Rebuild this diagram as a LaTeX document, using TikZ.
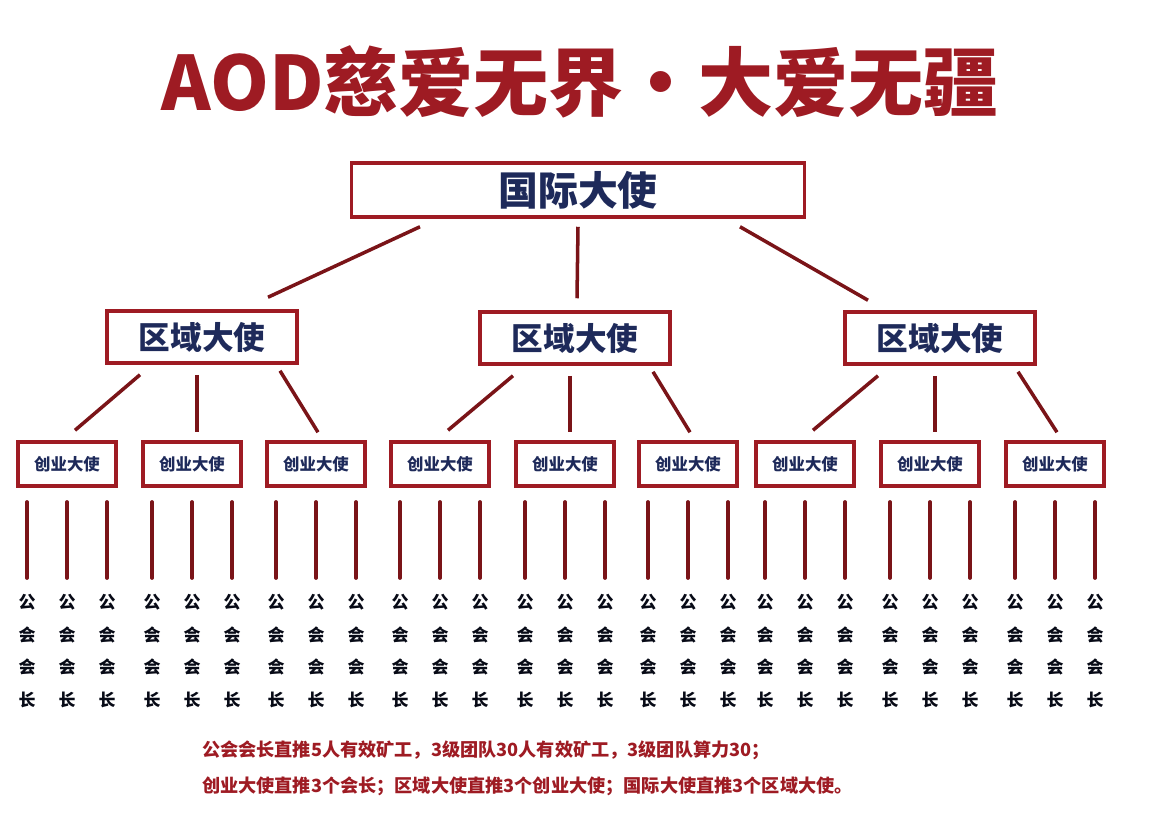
\documentclass[tikz,border=0pt]{standalone}
\usepackage{fontspec}
\setmainfont{Noto Sans CJK SC}
\usetikzlibrary{positioning}
\definecolor{darkred}{HTML}{9E1B23}
\definecolor{linered}{HTML}{7A1418}
\definecolor{navy}{HTML}{1E2A5A}
\begin{document}
\begin{tikzpicture}[x=0.03cm, y=-0.03cm,
    box/.style={draw=darkred, line width=3pt, fill=white, inner sep=0pt, font=\bfseries\color{navy}},
    link/.style={draw=linered, line width=3pt},
    stem/.style={draw=linered, line width=3.2pt, line cap=round},
    chair/.style={font=\bfseries\fontsize{14.5}{28}\selectfont, text=black!75!navy}]
	\useasboundingbox (0,0) rectangle (1164,826);

	\node [font=\bfseries\fontsize{64}{64}\selectfont, text=darkred] (title) at (580,82) {AOD慈爱无界·大爱无疆};

	\node [box, minimum width=453*0.03cm, minimum height=54*0.03cm, font=\bfseries\fontsize{34}{34}\selectfont\color{navy}] (intl) at (578,190) {国际大使};

	\node [box, minimum width=190*0.03cm, minimum height=52*0.03cm, font=\bfseries\fontsize{27}{27}\selectfont\color{navy}] (reg1) at (202,337) {区域大使};
	\node [box, minimum width=190*0.03cm, minimum height=52*0.03cm, font=\bfseries\fontsize{27}{27}\selectfont\color{navy}] (reg2) at (575,338) {区域大使};
	\node [box, minimum width=190*0.03cm, minimum height=52*0.03cm, font=\bfseries\fontsize{27}{27}\selectfont\color{navy}] (reg3) at (940,338) {区域大使};

	\draw [link] ([shift={(-158,8)}]intl.south) -- ([shift={(66,-12)}]reg1.north);
	\draw [link] ([shift={(0,8)}]intl.south) -- ([shift={(2,-12)}]reg2.north);
	\draw [link] ([shift={(162,8)}]intl.south) -- ([shift={(-72,-10)}]reg3.north);

	\foreach \i/\x/\r in {1/67/1, 2/192/1, 3/316/1, 4/440/2, 5/565/2, 6/688/2, 7/805/3, 8/930/3, 9/1055/3} {
		\node [box, minimum width=98*0.03cm, minimum height=44*0.03cm, font=\bfseries\fontsize{14}{14}\selectfont\color{navy}] (f\i) at (\x,464) {创业大使};
		\foreach \d [count=\k] in {-40,0,40} {
			\draw [stem] (\x+\d,502) -- (\x+\d,578);
			\node [chair, align=center] (c\i\k) at (\x+\d,651) {公\\会\\会\\长};
		}
	}

	% region to founders
	\foreach \r/\a/\b/\c in {1/1/2/3, 2/4/5/6, 3/7/8/9} {
		\draw [link] ([shift={(-62,10)}]reg\r.south) -- ([shift={(8,-10)}]f\a.north);
		\draw [link] ([shift={(-5,10)}]reg\r.south) -- ([shift={(5,-8)}]f\b.north);
		\draw [link] ([shift={(78,6)}]reg\r.south) -- ([shift={(2,-8)}]f\c.north);
	}

	\node [font=\bfseries\fontsize{15.5}{15.5}\selectfont, text=darkred, anchor=west] (note1) at (198,750) {公会会长直推5人有效矿工，3级团队30人有效矿工，3级团队算力30；};
	\node [font=\bfseries\fontsize{15.5}{15.5}\selectfont, text=darkred, anchor=west] (note2) at (198,786) {创业大使直推3个会长；区域大使直推3个创业大使；国际大使直推3个区域大使。};
\end{tikzpicture}
\end{document}
